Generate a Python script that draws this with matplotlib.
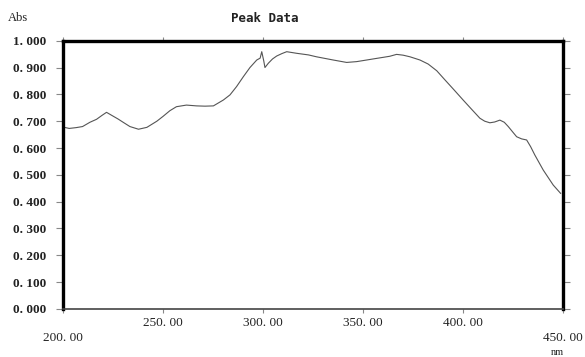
import matplotlib
matplotlib.use("Agg")
import matplotlib.pyplot as plt

# spectrum (nm, Abs)
wavelength = [200.0, 203.0, 206.5, 209.7, 213.4, 216.7, 219.5, 221.7, 224.7, 227.5,
              230.0, 233.4, 237.7, 241.9, 246.9, 250.0, 253.4, 256.7, 261.7, 266.8,
              271.0, 275.2, 280.2, 283.5, 286.8, 290.2, 293.5, 296.9, 298.6, 299.4,
              300.4, 301.0, 302.7, 304.8, 306.9, 309.5, 311.9, 316.9, 322.8, 326.8,
              331.0, 335.2, 341.9, 346.9, 351.9, 356.0, 360.2, 363.5, 366.9, 370.2,
              373.6, 378.6, 382.7, 387.0, 391.1, 395.5, 400.2, 404.5, 408.6, 411.0,
              413.6, 416.0, 418.6, 420.8, 422.8, 425.0, 427.0, 429.5, 432.0, 434.0,
              436.1, 440.3, 445.3, 449.0]
absorbance = [0.678, 0.673, 0.676, 0.680, 0.696, 0.707, 0.722, 0.733, 0.720, 0.708,
              0.696, 0.680, 0.670, 0.677, 0.700, 0.718, 0.739, 0.754, 0.760, 0.757,
              0.756, 0.757, 0.779, 0.798, 0.829, 0.866, 0.900, 0.928, 0.935, 0.959,
              0.925, 0.900, 0.916, 0.932, 0.943, 0.952, 0.959, 0.953, 0.947, 0.940,
              0.934, 0.928, 0.919, 0.922, 0.928, 0.933, 0.938, 0.942, 0.949, 0.946,
              0.940, 0.928, 0.913, 0.888, 0.854, 0.818, 0.779, 0.744, 0.711, 0.700,
              0.694, 0.697, 0.704, 0.696, 0.680, 0.660, 0.642, 0.634, 0.630, 0.605,
              0.574, 0.518, 0.462, 0.431]

y_ticks = [0.0, 0.1, 0.2, 0.3, 0.4, 0.5, 0.6, 0.7, 0.8, 0.9, 1.0]
y_labels = ["0. 000", "0. 100", "0. 200", "0. 300", "0. 400", "0. 500",
            "0. 600", "0. 700", "0. 800", "0. 900", "1. 000"]
x_ticks = [200, 250, 300, 350, 400, 450]
x_labels = ["200. 00", "250. 00", "300. 00", "350. 00", "400. 00", "450. 00"]

plt.rcParams['font.family'] = ['Liberation Serif', 'DejaVu Serif']

fig = plt.figure(figsize=(5.85, 3.57), dpi=100)
ax = fig.add_axes([0.108, 0.1345, 0.8537, 0.7515])

ax.plot(wavelength, absorbance, color='#555555', lw=0.8)

ax.set_xlim(200, 450)
ax.set_ylim(0, 1.0)

# y ticks on both sides, outward
ax.set_yticks(y_ticks)
ax.set_yticklabels(y_labels, fontsize=9.5, fontweight='bold', color='#222222')
ax.tick_params(axis='y', which='both', direction='out', length=5, width=0.8,
               color='#888888', pad=7, right=True)

# x ticks: middle labels normal, end labels dropped lower
ax.set_xticks(x_ticks)
ax.set_xticklabels(["", "250. 00", "300. 00", "350. 00", "400. 00", ""],
                   fontsize=9.5, color='#222222')
ax.tick_params(axis='x', which='both', direction='out', length=3, width=0.8,
               color='#888888', pad=3, top=True)
for xv, lab in [(x_ticks[0], x_labels[0]), (x_ticks[-1], x_labels[-1])]:
    ax.annotate(lab, xy=(xv, 0), xycoords=('data', 'axes fraction'),
                xytext=(0, -21), textcoords='offset points', ha='center',
                va='center', fontsize=9.5, color='#222222')
ax.annotate("nm", xy=(450, 0), xycoords=('data', 'axes fraction'),
            xytext=(-4, -31), textcoords='offset points', ha='center',
            va='center', fontsize=7.5, color='#222222')

# frame: heavy left/top/right, light bottom
for side in ['left', 'top', 'right']:
    ax.spines[side].set_linewidth(2.4)
    ax.spines[side].set_color('black')
ax.spines['bottom'].set_linewidth(1.2)
ax.spines['bottom'].set_color('#444444')

fig.text(8 / 585, 1 - 18 / 357, "Abs", fontsize=9, color='#222222', va='center')
fig.text(265 / 585, 1 - 18 / 357, "Peak Data", fontsize=9, fontweight='bold',
         family='DejaVu Sans Mono', color='#222222', va='center', ha='center')

fig.savefig("out.png", dpi=100)
